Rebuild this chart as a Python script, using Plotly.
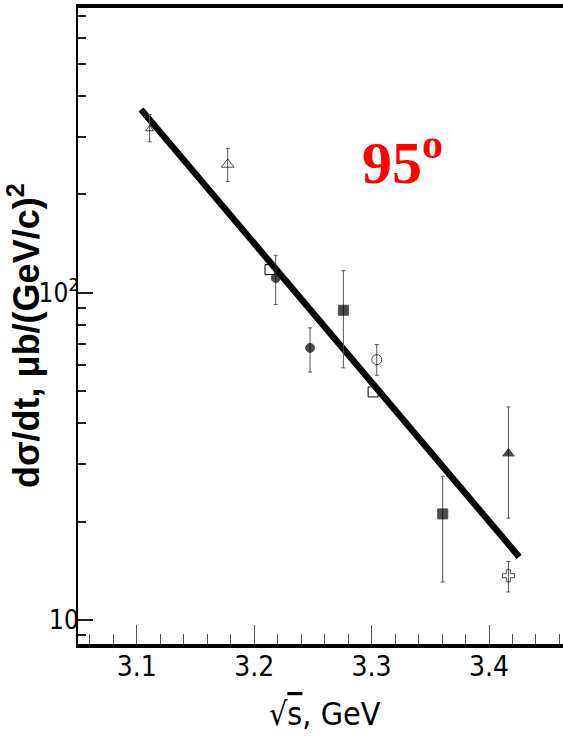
import plotly.graph_objects as go

# --- data ---
# points with error bars
err_x = [3.111, 3.1775, 3.2184, 3.2476, 3.276, 3.3044, 3.3606, 3.4165, 3.4165]
err_y = [317, 247, 111.1, 67.9, 88.5, 62.5, 21.1, 32.3, 13.66]
err_up = [351, 276, 130.3, 78.2, 117, 69.5, 27.5, 44.8, 15.1]
err_dn = [289.6, 219, 92.1, 57.3, 59, 56.0, 13.07, 20.5, 12.18]
err_sym = ["triangle-up-open", "triangle-up-open", "circle", "circle", "square",
           "circle-open", "square", "triangle-up", "cross-open"]
err_size = [7, 11, 9, 9, 10, 10, 10, 10, 10]

# points without error bars
noerr_x = [3.2135, 3.3013]
noerr_y = [117.8, 49.8]
noerr_sym = ["square-open", "square-open"]

# fitted line (end points)
fit_x = [3.1037, 3.4256]
fit_y = [363.6, 15.6]

x_ticks = [3.1, 3.2, 3.3, 3.4]
x_ticktext = ["3.1", "3.2", "3.3", "3.4"]
y_ticks = [10, 100]
y_ticktext = ["10", "10<sup>2</sup>"]
y_minor = [9, 20, 30, 40, 50, 60, 70, 80, 90, 200, 300, 400, 500, 600, 700]

angle_label = "<b>95<sup>o</sup></b>"
x_title = "√<span style='text-decoration:overline'>s</span>, GeV"
y_title = "<b>dσ/dt, μb/(GeV/c)<sup>2</sup></b>"

NARROW = "Liberation Sans Narrow, DejaVu Sans Condensed, Arial Narrow, sans-serif"

up_arr = [u - y for u, y in zip(err_up, err_y)]
dn_arr = [y - d for y, d in zip(err_y, err_dn)]

fig = go.Figure()

fig.add_trace(go.Scatter(
    x=fit_x, y=fit_y, mode="lines",
    line=dict(color="black", width=6.5),
    showlegend=False, hoverinfo="skip",
))

fig.add_trace(go.Scatter(
    x=err_x, y=err_y, mode="markers",
    marker=dict(symbol=err_sym, size=err_size, color="black",
                line=dict(color="black", width=1)),
    error_y=dict(type="data", symmetric=False, array=up_arr, arrayminus=dn_arr,
                 color="#555555", thickness=1, width=2),
    showlegend=False,
))

fig.add_trace(go.Scatter(
    x=noerr_x, y=noerr_y, mode="markers",
    marker=dict(symbol=noerr_sym, size=10, color="black",
                line=dict(color="black", width=1)),
    showlegend=False,
))

fig.update_xaxes(
    range=[3.05, 3.463],
    showline=True, linecolor="black", linewidth=4, mirror=True,
    showgrid=False, zeroline=False,
    ticks="inside", tickvals=x_ticks, ticktext=x_ticktext,
    ticklen=19, tickwidth=1, tickcolor="#555555",
    minor=dict(ticks="inside", dtick=0.02, tick0=3.0, ticklen=10,
               tickwidth=1, tickcolor="#555555", showgrid=False),
    tickfont=dict(family=NARROW, size=28, color="black"),
    ticklabelstandoff=-6,
)

fig.update_yaxes(
    type="log", range=[0.9266, 2.871],
    showline=True, linecolor="black", linewidth=2, mirror=False,
    showgrid=False, zeroline=False,
    ticks="inside", tickvals=y_ticks, ticktext=y_ticktext,
    ticklen=15, tickwidth=2, tickcolor="#222222",
    minor=dict(ticks="inside", tickvals=y_minor, ticklen=8,
               tickwidth=2, tickcolor="#222222", showgrid=False),
    tickfont=dict(family=NARROW, size=26, color="black"),
    ticklabelstandoff=-8,
)

fig.add_annotation(
    text=angle_label, xref="paper", yref="paper",
    x=(402 - 78) / 485, y=1 - (158 - 8) / 636,
    showarrow=False, xanchor="center", yanchor="middle",
    font=dict(family="Liberation Serif, Times New Roman, serif", size=60, color="#ff0000"),
)

fig.add_annotation(
    text=y_title, xref="paper", yref="paper",
    x=(24 - 78) / 485, y=1 - (336 - 8) / 636,
    showarrow=False, xanchor="center", yanchor="middle", textangle=-90,
    font=dict(family="Liberation Sans, Arial, sans-serif", size=36, color="black"),
)

fig.add_annotation(
    text=x_title, xref="paper", yref="paper",
    x=(325 - 78) / 485, y=-(714 - 644) / 636,
    showarrow=False, xanchor="center", yanchor="middle",
    font=dict(family=NARROW, size=32, color="black"),
)

fig.update_layout(
    width=563, height=744,
    margin=dict(l=78, r=0, t=8, b=100),
    paper_bgcolor="white", plot_bgcolor="white",
    showlegend=False,
)

fig.write_html("out.html", config={"displayModeBar": False},
               post_script="document.body.style.margin='0';")
